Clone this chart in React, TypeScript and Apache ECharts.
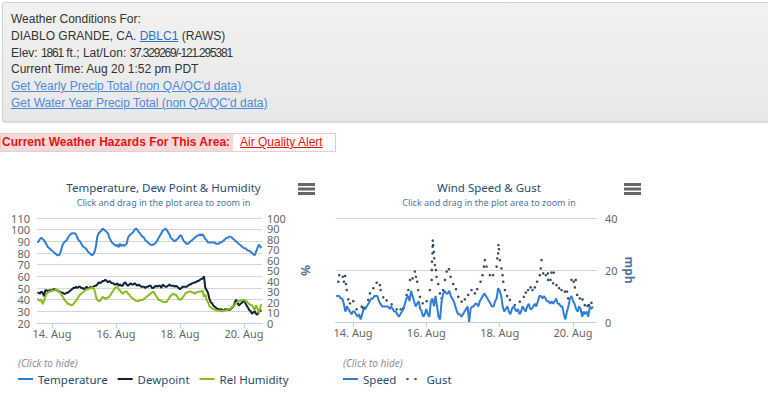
import React, { useEffect, useRef } from 'react';
import * as echarts from 'echarts';

// hours relative to 14 Aug 00:00 of the first hourly observation (13 Aug 13:00)
const FIRST_HOUR = -11;
const tickHours = [0, 48, 96, 144];
const tickLabels = ['14. Aug', '16. Aug', '18. Aug', '20. Aug'];

const temperature = [
  89, 90, 92, 93, 92, 91, 89, 87, 85, 84, 83, 82, 81, 80, 79, 78, 78, 79, 83, 87, 89, 90, 91, 93,
  95, 96, 97, 97, 97, 96, 93, 91, 90, 88, 86, 85, 84, 83, 81, 80, 79, 78, 79, 81, 86, 94, 97, 98,
  99, 101, 100, 99, 98, 97, 93, 91, 89, 88, 87, 86, 87, 85, 88, 86, 87, 86, 87, 88, 93, 95, 96, 97,
  98, 100, 101, 100, 98, 97, 95, 94, 93, 91, 90, 89, 88, 87, 87, 87, 88, 89, 91, 93, 95, 97, 99, 100,
  101, 100, 98, 96, 93, 92, 91, 90, 91, 92, 93, 95, 95, 92, 90, 89, 88, 88, 89, 90, 91, 92, 93, 94,
  95, 95, 96, 95, 96, 94, 92, 91, 89, 89, 89, 89, 89, 89, 88, 88, 88, 89, 89, 90, 91, 92, 93, 93,
  94, 94, 93, 92, 91, 90, 89, 88, 87, 86, 85, 84, 84, 83, 82, 82, 81, 80, 79, 78, 81, 84, 87, 86,
  84,
];

const dewpoint = [
  46, 46, 45, 47, 46, 43, 48, 48, 47, 48, 48, 48, 49, 49, 48, 48, 47, 47, 46, 46, 45, 45, 46, 46,
  47, 48, 49, 50, 50, 51, 50, 51, 51, 50, 50, 49, 50, 51, 50, 50, 51, 50, 51, 52, 52, 53, 55, 54,
  55, 56, 56, 57, 56, 55, 56, 55, 54, 54, 53, 53, 54, 52, 53, 52, 52, 54, 55, 53, 52, 53, 54, 53,
  53, 54, 53, 52, 53, 52, 51, 51, 51, 50, 51, 51, 52, 52, 50, 50, 51, 52, 51, 52, 52, 50, 53, 52,
  51, 51, 52, 53, 52, 52, 52, 51, 52, 51, 50, 49, 50, 51, 51, 51, 51, 52, 53, 53, 54, 54, 55, 55,
  56, 56, 57, 58, 58, 60, 50, 48, 46, 41, 38, 37, 35, 34, 33, 32, 32, 31, 32, 31, 31, 32, 31, 32,
  31, 32, 33, 34, 37, 40, 38, 35, 36, 37, 38, 40, 37, 35, 33, 31, 30, 28, 29, 30, 28, 27, 29, 31,
  30,
];

const relHumidity = [
  23, 22, 21, 22, 18, 21, 25, 28, 29, 30, 30, 31, 31, 31, 32, 31, 31, 29, 27, 25, 23, 21, 20, 18,
  18, 17, 17, 18, 20, 21, 23, 25, 27, 28, 29, 30, 31, 32, 32, 33, 33, 34, 33, 31, 25, 22, 21, 21,
  23, 25, 24, 23, 24, 24, 25, 27, 29, 31, 33, 34, 34, 32, 31, 29, 28, 29, 30, 30, 28, 27, 25, 24,
  23, 22, 21, 21, 21, 22, 22, 22, 23, 24, 25, 26, 27, 28, 29, 30, 28, 26, 24, 22, 22, 21, 20, 20,
  20, 20, 22, 24, 26, 27, 28, 27, 27, 25, 23, 22, 23, 24, 26, 28, 29, 29, 30, 30, 29, 29, 28, 29,
  29, 30, 30, 30, 31, 25, 27, 22, 20, 16, 15, 14, 13, 13, 12, 12, 12, 11, 12, 11, 12, 12, 12, 13,
  13, 14, 15, 16, 17, 19, 20, 21, 21, 22, 22, 22, 21, 21, 19, 18, 17, 17, 15, 12, 17, 14, 9, 14,
  18,
];

const windSpeed = [
  10, 10, 10, 9, 9, 7, 4, 6, 5, 4, 3, 4, 4, 3, 2, 3, 1, 3, 5, 5, 6, 7, 8, 9,
  9, 10, 10, 10, 8, 7, 6, 6, 6, 6, 6, 5, 6, 5, 4, 4, 3, 2, 3, 4, 5, 7, 9, 10,
  8, 12, 10, 8, 6, 7, 8, 5, 4, 2, 3, 5, 3, 2, 8, 9, 6, 10, 6, 2, 1, 8, 11, 12,
  11, 11, 12, 10, 9, 8, 6, 4, 3, 3, 2, 3, 4, 5, 6, 0, 5, 6, 6, 7, 7, 6, 8, 9,
  10, 11, 10, 9, 8, 7, 6, 6, 8, 9, 13, 12, 10, 6, 4, 5, 6, 4, 3, 5, 6, 5, 4, 5,
  3, 4, 6, 5, 4, 6, 7, 5, 5, 6, 7, 6, 8, 10, 10, 9, 10, 9, 8, 8, 7, 8, 7, 8,
  9, 7, 7, 6, 6, 3, 1, 4, 6, 9, 10, 8, 7, 5, 4, 6, 5, 2, 4, 3, 4, 2, 6, 5,
  6,
];

// gust reports: hours after the first observation, and mph
const gustHours = [
  1.4, 2.0, 4.3, 5.1, 5.8, 6.4, 6.9, 7.9, 9.0, 11.2, 13.4, 16.7, 17.7, 18.8, 21.0, 22.1, 24.3, 26.5,
  28.6, 29.1, 30.8, 33.0, 36.3, 39.6, 42.2, 43.9, 46.1, 47.2, 48.3, 50.0, 51.5, 52.2, 53.0, 53.7,
  54.8, 56.6, 59.2, 61.3, 62.5, 62.6, 62.7, 63.0, 63.1, 63.2, 63.5, 64.0, 64.2, 64.6, 65.3, 65.7,
  66.8, 67.9, 69.0, 70.0, 71.2, 72.3, 73.8, 74.9, 76.6, 78.4, 79.9, 82.1, 84.2, 86.4, 88.6, 90.8,
  92.3, 94.5, 95.8, 96.7, 97.3, 98.4, 100.6, 102.7, 105.0, 105.4, 106.0, 106.2, 106.5, 107.1, 108.2,
  108.9, 109.3, 110.4, 111.9, 113.7, 116.9, 120.2, 122.8, 124.1, 125.6, 127.2, 128.5, 130.0, 131.5,
  133.3, 133.9, 134.4, 135.5, 137.2, 138.6, 138.7, 140.3, 140.9, 142.0, 142.4, 144.2, 145.9, 147.5,
  149.6, 151.1, 151.8, 154.0, 155.5, 156.2, 156.8, 157.7, 159.4, 161.2, 162.7, 164.5, 165.5, 167.1,
];
const gustValues = [
  15.5, 18, 17.4, 15.5, 17.7, 14.6, 12.3, 8.7, 7.2, 8, 4.9, 5.9, 5.3, 5.5, 8.5, 11, 13, 15.1,
  14.2, 12.3, 9.5, 8.3, 6.8, 4.9, 4.9, 5.3, 10.4, 12.3, 16.2, 16.8, 19.4, 17.4, 15.5, 12.3,
  9.7, 7.2, 8, 12.3, 16.2, 20, 23.2, 26.4, 29, 31.3, 29.6, 27, 24.5, 21.9, 20, 17.4,
  14.6, 11, 9.1, 12.3, 16.2, 19.4, 20.3, 17.4, 14.6, 12.6, 9.7, 7.8, 8.7, 10.4, 12.3, 11,
  12.6, 15.5, 18, 21.3, 23.8, 21.3, 18, 18, 21.3, 24.5, 26.4, 29.6, 28, 23.8, 20.6,
  18, 15.5, 12.3, 10, 8.5, 6.5, 7.8, 9.7, 11.3, 12.3, 13.3, 12.3, 13.3, 15.5,
  18, 20.6, 23.8, 18.7, 18, 18.7, 16.2, 16.2, 19, 14.9, 19, 14.2, 13, 12.3,
  11.7, 11.7, 9.1, 16.2, 15.5, 13.3, 16.2, 10.4, 9.1, 8.7, 6.5, 6.2, 6.5, 7.4,
];

const FONT = '"Noto Sans", "DejaVu Sans", sans-serif';
const LINE_ICON = 'path://M0,0H15V2H0Z';
const DOTS_ICON = 'path://M0,0h2.2v2h-2.2zM8,0h2.2v2h-2.2zM14.99,0h0.01v2h-0.01z';

const hourly = (arr: number[]) => arr.map((v, i) => [FIRST_HOUR + i, v]);

function xAxisFor(gridIndex: number, min: number, max: number) {
  return {
    type: 'value',
    gridIndex,
    min,
    max,
    axisLine: { show: true, lineStyle: { color: '#C0D0E0', width: 1 } },
    axisTick: { show: true, customValues: tickHours, length: 5, lineStyle: { color: '#C0D0E0' } },
    axisLabel: {
      customValues: tickHours,
      formatter: (v: number) => {
        const k = tickHours.indexOf(Math.round(v));
        return k >= 0 ? tickLabels[k] : '';
      },
      color: '#666',
      fontSize: 11,
      fontFamily: FONT,
      margin: 5,
    },
    splitLine: { show: false },
  };
}

function menuIcon(x: number) {
  return [0, 4.5, 9].map((dy) => ({
    type: 'rect',
    shape: { x, y: 183 + dy, width: 17, height: 3 },
    style: { fill: '#666' },
  }));
}

export default function App() {
  const ref = useRef<HTMLDivElement>(null);

  useEffect(() => {
    if (!ref.current) return;
    const chart = echarts.init(ref.current, null, { renderer: 'svg' });
    const axisLabel = { color: '#666', fontSize: 11, fontFamily: FONT };
    const axisName = { color: '#4d759e', fontSize: 12, fontWeight: 'bold', fontFamily: FONT };
    chart.setOption({
      animation: false,
      textStyle: { fontFamily: FONT },
      grid: [
        { left: 37, top: 218, width: 225, height: 105 },
        { left: 335.5, top: 218, width: 261.5, height: 104 },
      ],
      xAxis: [xAxisFor(0, -11.25, 157.5), xAxisFor(1, -11.45, 159.7)],
      yAxis: [
        {
          type: 'value', gridIndex: 0, position: 'left', min: 20, max: 110, interval: 10,
          axisLine: { show: false }, axisTick: { show: false },
          axisLabel: { ...axisLabel, margin: 7 },
          splitLine: { lineStyle: { color: '#d6d6d6', width: 1 } },
        },
        {
          // humidity axis: labels 0, 20, ... 100
          type: 'value', gridIndex: 0, position: 'right', min: 0, max: 100, interval: 10,
          axisLine: { show: false }, axisTick: { show: false },
          axisLabel: {
            ...axisLabel, margin: 5, showMinLabel: true, showMaxLabel: true,
            formatter: (v: number) => (Math.round(v) % 20 === 0 ? String(v) : ''),
          },
          splitLine: { show: false },
          name: '%', nameLocation: 'middle', nameGap: 37, nameRotate: -90, nameTextStyle: axisName,
        },
        {
          type: 'value', gridIndex: 1, position: 'right', min: 0, max: 40, interval: 20,
          axisLine: { show: false }, axisTick: { show: false },
          axisLabel: { ...axisLabel, margin: 8 },
          splitLine: { lineStyle: { color: '#d6d6d6', width: 1 } },
          name: 'mph', nameLocation: 'middle', nameGap: 26, nameRotate: -90, nameTextStyle: axisName,
        },
        {
          // same humidity scale: labels 10, 30, ... 90
          type: 'value', gridIndex: 0, position: 'right', min: 0, max: 100, interval: 10,
          axisLine: { show: false }, axisTick: { show: false },
          axisLabel: {
            ...axisLabel, margin: 5, showMinLabel: false, showMaxLabel: false,
            formatter: (v: number) => (Math.round(v) % 20 === 10 ? String(v) : ''),
          },
          splitLine: { show: false },
        },
      ],
      legend: [
        {
          left: 18, top: 373, padding: 0, itemWidth: 15, itemHeight: 2, itemGap: 10,
          textStyle: { color: '#274b6d', fontSize: 11.5, fontFamily: FONT },
          data: [
            { name: 'Temperature', icon: LINE_ICON },
            { name: 'Dewpoint', icon: LINE_ICON },
            { name: 'Rel Humidity', icon: LINE_ICON },
          ],
        },
        {
          left: 343, top: 373, padding: 0, itemWidth: 15, itemHeight: 2, itemGap: 10,
          textStyle: { color: '#274b6d', fontSize: 11.5, fontFamily: FONT },
          data: [
            { name: 'Speed', icon: LINE_ICON },
            { name: 'Gust', icon: DOTS_ICON },
          ],
        },
      ],
      series: [
        {
          name: 'Temperature', type: 'line', xAxisIndex: 0, yAxisIndex: 0, data: hourly(temperature),
          showSymbol: false, lineStyle: { color: '#2f7ed8', width: 2 }, itemStyle: { color: '#2f7ed8' },
        },
        {
          name: 'Dewpoint', type: 'line', xAxisIndex: 0, yAxisIndex: 0, data: hourly(dewpoint),
          showSymbol: false, lineStyle: { color: '#0d233a', width: 2 }, itemStyle: { color: '#0d233a' },
        },
        {
          name: 'Rel Humidity', type: 'line', xAxisIndex: 0, yAxisIndex: 1, data: hourly(relHumidity),
          showSymbol: false, lineStyle: { color: '#8bbc21', width: 2 }, itemStyle: { color: '#8bbc21' },
        },
        {
          name: 'Speed', type: 'line', xAxisIndex: 1, yAxisIndex: 2, data: hourly(windSpeed),
          showSymbol: false, lineStyle: { color: '#2f7ed8', width: 2 }, itemStyle: { color: '#2f7ed8' },
        },
        {
          name: 'Gust', type: 'scatter', xAxisIndex: 1, yAxisIndex: 2,
          data: gustHours.map((h, i) => [FIRST_HOUR + h, gustValues[i]]),
          symbolSize: 2.6, itemStyle: { color: '#0d233a' },
        },
      ],
      graphic: [
        {
          type: 'text', x: 163.5, y: 187,
          style: { text: 'Temperature, Dew Point & Humidity', fill: '#274b6d', fontSize: 11.5, fontFamily: FONT, align: 'center', verticalAlign: 'middle' },
        },
        {
          type: 'text', x: 163.5, y: 202,
          style: { text: 'Click and drag in the plot area to zoom in', fill: '#4d759e', fontSize: 9, fontFamily: FONT, align: 'center', verticalAlign: 'middle' },
        },
        {
          type: 'text', x: 489, y: 187,
          style: { text: 'Wind Speed & Gust', fill: '#274b6d', fontSize: 11.5, fontFamily: FONT, align: 'center', verticalAlign: 'middle' },
        },
        {
          type: 'text', x: 489, y: 202,
          style: { text: 'Click and drag in the plot area to zoom in', fill: '#4d759e', fontSize: 9, fontFamily: FONT, align: 'center', verticalAlign: 'middle' },
        },
        {
          type: 'text', x: 18, y: 363,
          style: { text: '(Click to hide)', fill: '#909090', fontSize: 10, fontStyle: 'italic', fontFamily: FONT, align: 'left', verticalAlign: 'middle' },
        },
        {
          type: 'text', x: 343, y: 363,
          style: { text: '(Click to hide)', fill: '#909090', fontSize: 10, fontStyle: 'italic', fontFamily: FONT, align: 'left', verticalAlign: 'middle' },
        },
        ...menuIcon(298),
        ...menuIcon(624),
      ],
    });
    return () => chart.dispose();
  }, []);

  const link = { color: '#4a8ad8', textDecoration: 'underline' };
  const narrow = { letterSpacing: '-1.2px' };

  return (
    <div style={{ position: 'absolute', left: 0, top: 0, width: 768, height: 399, overflow: 'hidden', background: '#fff' }}>
      <div ref={ref} style={{ position: 'absolute', left: 0, top: 0, width: 768, height: 399 }} />
      <div
        style={{
          position: 'absolute', left: 2, top: 2, width: 800, height: 120, boxSizing: 'border-box',
          background: 'linear-gradient(#f1f1f1, #e8e8e8)', border: '1px solid #d2d2d2',
          boxShadow: '0 1px 2px rgba(0,0,0,0.12)', borderRadius: 2,
        }}
      >
        <div
          style={{
            position: 'absolute', left: 8, top: 8, fontFamily: '"Liberation Sans", Arial, sans-serif',
            fontSize: 12, lineHeight: '16.8px', color: '#333', whiteSpace: 'nowrap',
          }}
        >
          <div>Weather Conditions For:</div>
          <div>
            DIABLO GRANDE, CA. <span style={{ color: '#2f6fc4', textDecoration: 'underline' }}>DBLC1</span> (RAWS)
          </div>
          <div>
            Elev: <span style={narrow}>1861</span> ft.; Lat/Lon: <span style={narrow}>37.329269/-121.295381</span>
          </div>
          <div>Current Time: Aug 20 1:52 pm PDT</div>
          <div><span style={link}>Get Yearly Precip Total (non QA/QC'd data)</span></div>
          <div><span style={link}>Get Water Year Precip Total (non QA/QC'd data)</span></div>
        </div>
      </div>
      <div
        style={{
          position: 'absolute', left: 0, top: 133, width: 336, height: 19, boxSizing: 'border-box',
          background: '#f3dada', border: '1px solid #efcaca',
          fontFamily: '"Liberation Sans", Arial, sans-serif', fontSize: 12, lineHeight: '17px', whiteSpace: 'nowrap',
        }}
      >
        <span style={{ position: 'absolute', left: 1, top: 0, color: '#f01010', fontWeight: 'bold' }}>
          Current Weather Hazards For This Area:
        </span>
        <div
          style={{
            position: 'absolute', left: 232, top: 0, width: 102, height: 17, background: '#fff',
          }}
        >
          <span style={{ position: 'absolute', left: 7, top: 0, color: '#f01010', textDecoration: 'underline' }}>
            Air Quality Alert
          </span>
        </div>
      </div>
    </div>
  );
}
